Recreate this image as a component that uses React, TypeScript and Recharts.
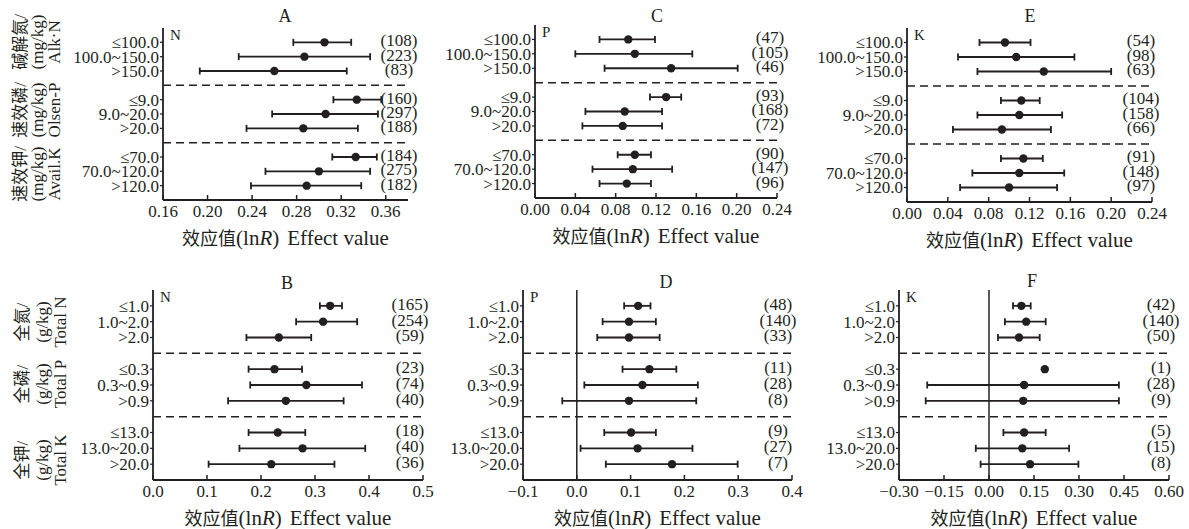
import React from "react";
import { ScatterChart, Scatter, XAxis, YAxis, ErrorBar, ReferenceLine } from "recharts";

const FONT = '"Liberation Serif", "Times New Roman", "Noto Sans CJK SC", serif';
const CJK = '"Noto Sans CJK SC", sans-serif';
const INK = "#231f20";

// row slots (3 and 7 are the dashed separators)
const rowIdx = [0, 1, 2, 4, 5, 6, 8, 9, 10];
const availRows = ["≤100.0", "100.0~150.0", ">150.0", "≤9.0", "9.0~20.0", ">20.0", "≤70.0", "70.0~120.0", ">120.0"];
const totalRows = ["≤1.0", "1.0~2.0", ">2.0", "≤0.3", "0.3~0.9", ">0.9", "≤13.0", "13.0~20.0", ">20.0"];

// A - N, available nutrients
const aMean = [0.305, 0.287, 0.26, 0.334, 0.306, 0.286, 0.333, 0.3, 0.289];
const aLow = [0.277, 0.228, 0.193, 0.313, 0.258, 0.235, 0.312, 0.252, 0.239];
const aHigh = [0.329, 0.346, 0.325, 0.356, 0.353, 0.335, 0.352, 0.346, 0.338];
const aN = [108, 223, 83, 160, 297, 188, 184, 275, 182];

// C - P, available nutrients
const cMean = [0.0925, 0.099, 0.135, 0.13, 0.089, 0.087, 0.099, 0.097, 0.091];
const cLow = [0.064, 0.04, 0.069, 0.114, 0.05, 0.047, 0.082, 0.057, 0.064];
const cHigh = [0.119, 0.156, 0.201, 0.145, 0.126, 0.126, 0.115, 0.136, 0.115];
const cN = [47, 105, 46, 93, 168, 72, 90, 147, 96];

// E - K, available nutrients
const eMean = [0.096, 0.107, 0.134, 0.112, 0.11, 0.093, 0.114, 0.11, 0.1];
const eLow = [0.071, 0.05, 0.069, 0.092, 0.069, 0.045, 0.092, 0.064, 0.052];
const eHigh = [0.121, 0.164, 0.2, 0.13, 0.152, 0.141, 0.133, 0.154, 0.147];
const eN = [54, 98, 63, 104, 158, 66, 91, 148, 97];

// B - N, total nutrients
const bMean = [0.328, 0.315, 0.233, 0.225, 0.284, 0.246, 0.231, 0.277, 0.219];
const bLow = [0.309, 0.265, 0.173, 0.177, 0.18, 0.139, 0.177, 0.16, 0.103];
const bHigh = [0.35, 0.378, 0.293, 0.276, 0.387, 0.353, 0.282, 0.393, 0.336];
const bN = [165, 254, 59, 23, 74, 40, 18, 40, 36];

// D - P, total nutrients
const dMean = [0.114, 0.097, 0.097, 0.135, 0.122, 0.097, 0.101, 0.113, 0.177];
const dLow = [0.088, 0.048, 0.038, 0.085, 0.014, -0.027, 0.051, 0.007, 0.054];
const dHigh = [0.137, 0.147, 0.154, 0.185, 0.225, 0.222, 0.147, 0.215, 0.299];
const dN = [48, 140, 33, 11, 28, 8, 9, 27, 7];

// F - K, total nutrients
const fMean = [0.108, 0.124, 0.1, 0.186, 0.117, 0.114, 0.117, 0.111, 0.137];
const fLow = [0.08, 0.053, 0.03, 0.186, -0.206, -0.211, 0.048, -0.044, -0.028];
const fHigh = [0.139, 0.189, 0.169, 0.186, 0.433, 0.433, 0.189, 0.267, 0.298];
const fN = [42, 140, 50, 1, 28, 9, 5, 15, 8];

const aTicks = [0.16, 0.2, 0.24, 0.28, 0.32, 0.36];
const ceTicks = [0, 0.04, 0.08, 0.12, 0.16, 0.2, 0.24];
const bTicks = [0, 0.1, 0.2, 0.3, 0.4, 0.5];
const dTicks = [-0.1, 0, 0.1, 0.2, 0.3, 0.4];
const fTicks = [-0.3, -0.15, 0, 0.15, 0.3, 0.45, 0.6];

const availSide = [
  ["碱解氮/", "(mg/kg)", "Alk·N"],
  ["速效磷/", "(mg/kg)", "Olsen-P"],
  ["速效钾/", "(mg/kg)", "Avail.K"],
];
const totalSide = [
  ["全氮/", "(g/kg)", "Total N"],
  ["全磷/", "(g/kg)", "Total P"],
  ["全钾/", "(g/kg)", "Total K"],
];

type Box = { l: number; r: number; t: number; b: number };

interface PanelProps {
  box: Box;
  rows: string[];
  mean: number[];
  low: number[];
  high: number[];
  counts: number[];
  domain: [number, number];
  ticks: number[];
  digits: number;
  zero?: boolean;
  countDx: number;
}

const fmt = (v: number, d: number) => v.toFixed(d).replace("-", "−");

function ForestPanel({ box, rows, mean, low, high, counts, domain, ticks, digits, zero, countDx }: PanelProps) {
  const yw = 110;
  const rw = 1;
  const mr = 24;
  const xh = 56;
  const pw = box.r - box.l;
  const ph = box.b - box.t;
  const W = yw + pw + rw + mr;
  const H = ph + xh;
  const pts = mean.map((m, i) => ({ x: m, y: rowIdx[i], err: [m - low[i], high[i] - m] }));

  const xTick = (p: any) => (
    <g>
      <line x1={p.x} x2={p.x} y1={ph} y2={ph - 5} stroke={INK} strokeWidth={1.5} />
      <text x={p.x} y={ph + 17} textAnchor="middle" fontFamily={FONT} fontSize={17} fill={INK}>
        {fmt(p.payload.value, digits)}
      </text>
    </g>
  );

  const rowTick = (p: any) => (
    <text x={p.x} y={p.y} dy="0.35em" textAnchor="end" fontFamily={FONT} fontSize={17} fill={INK}>
      {rows[rowIdx.indexOf(p.payload.value)]}
    </text>
  );

  const countTick = (p: any) => {
    const i = rowIdx.indexOf(p.payload.value);
    return (
      <text x={p.x + countDx} y={p.y - 2} dy="0.35em" textAnchor="middle" fontFamily={FONT} fontSize={17} fill={INK}>
        ({counts[i]})
      </text>
    );
  };

  return (
    <div style={{ position: "absolute", left: box.l - yw, top: box.t, width: W, height: H }}>
      <ScatterChart width={W} height={H} margin={{ top: 0, right: mr, bottom: 0, left: 0 }}>
        <XAxis
          type="number"
          dataKey="x"
          domain={domain}
          ticks={ticks}
          interval={0}
          allowDataOverflow
          height={xh}
          axisLine={{ stroke: INK, strokeWidth: 1.8 }}
          tickLine={false}
          tick={xTick}
        />
        <YAxis
          yAxisId="l"
          type="number"
          dataKey="y"
          domain={[-1, 11]}
          reversed
          ticks={rowIdx}
          interval={0}
          width={yw}
          axisLine={{ stroke: INK, strokeWidth: 1.8 }}
          tickLine={{ stroke: INK, strokeWidth: 1.2 }}
          tickSize={3}
          tickMargin={1}
          tick={rowTick}
        />
        <YAxis
          yAxisId="r"
          orientation="right"
          type="number"
          dataKey="y"
          domain={[-1, 11]}
          reversed
          ticks={rowIdx}
          interval={0}
          width={rw}
          axisLine={false}
          tickLine={false}
          tickSize={0}
          tickMargin={0}
          tick={countTick}
        />
        <ReferenceLine yAxisId="l" y={3} stroke={INK} strokeWidth={1.5} strokeDasharray="8 5" />
        <ReferenceLine yAxisId="l" y={7} stroke={INK} strokeWidth={1.5} strokeDasharray="8 5" />
        {zero && <ReferenceLine yAxisId="l" x={0} stroke={INK} strokeWidth={1.5} />}
        <Scatter
          yAxisId="l"
          data={pts}
          isAnimationActive={false}
          shape={(p: any) => <circle cx={p.cx} cy={p.cy} r={4.2} fill={INK} />}
        >
          <ErrorBar dataKey="err" direction="x" width={3.5} stroke={INK} strokeWidth={1.8} isAnimationActive={false} />
        </Scatter>
        <Scatter yAxisId="r" data={pts} isAnimationActive={false} shape={() => <g />} />
      </ScatterChart>
    </div>
  );
}

const boxA: Box = { l: 163, r: 408, t: 28, b: 200 };
const boxC: Box = { l: 535, r: 777, t: 25, b: 198 };
const boxE: Box = { l: 907, r: 1152, t: 28, b: 202 };
const boxB: Box = { l: 153, r: 423, t: 290, b: 480 };
const boxD: Box = { l: 523, r: 792, t: 290, b: 480 };
const boxF: Box = { l: 899, r: 1169, t: 290, b: 480 };

function AxisTitle({ box }: { box: Box }) {
  return (
    <text x={(box.l + box.r) / 2} y={box.b + 45} textAnchor="middle" fontFamily={FONT} fill={INK}>
      <tspan fontFamily={CJK} fontSize={18}>效应值</tspan>
      <tspan fontSize={21}>(ln</tspan>
      <tspan fontSize={21} fontStyle="italic">R</tspan>
      <tspan fontSize={21}>)</tspan>
      <tspan fontSize={21} dx={8}>Effect value</tspan>
    </text>
  );
}

function SideLabels({ groups, xs, ys }: { groups: string[][]; xs: number[]; ys: number[] }) {
  return (
    <g>
      {groups.map((g, gi) =>
        g.map((s, li) => (
          <text
            key={`${gi}-${li}`}
            x={xs[li]}
            y={ys[gi]}
            transform={`rotate(-90 ${xs[li]} ${ys[gi]})`}
            textAnchor="middle"
            dominantBaseline="central"
            fontFamily={FONT}
            fontSize={17}
            fill={INK}
          >
            {s}
          </text>
        ))
      )}
    </g>
  );
}

export default function App() {
  const panels = [
    { box: boxA, title: "A", el: "N", tx: 285, ty: 22 },
    { box: boxC, title: "C", el: "P", tx: 657, ty: 22 },
    { box: boxE, title: "E", el: "K", tx: 1030, ty: 22 },
    { box: boxB, title: "B", el: "N", tx: 287, ty: 289 },
    { box: boxD, title: "D", el: "P", tx: 666, ty: 288 },
    { box: boxF, title: "F", el: "K", tx: 1032, ty: 287 },
  ];
  return (
    <div style={{ position: "absolute", left: 0, top: 0, width: 1189, height: 529, background: "#fff", overflow: "hidden" }}>
      <ForestPanel box={boxA} rows={availRows} mean={aMean} low={aLow} high={aHigh} counts={aN} domain={[0.16, 0.38]} ticks={aTicks} digits={2} countDx={-9} />
      <ForestPanel box={boxC} rows={availRows} mean={cMean} low={cLow} high={cHigh} counts={cN} domain={[0, 0.24]} ticks={ceTicks} digits={2} countDx={-7} />
      <ForestPanel box={boxE} rows={availRows} mean={eMean} low={eLow} high={eHigh} counts={eN} domain={[0, 0.24]} ticks={ceTicks} digits={2} countDx={-11} />
      <ForestPanel box={boxB} rows={totalRows} mean={bMean} low={bLow} high={bHigh} counts={bN} domain={[0, 0.5]} ticks={bTicks} digits={1} countDx={-13} />
      <ForestPanel box={boxD} rows={totalRows} mean={dMean} low={dLow} high={dHigh} counts={dN} domain={[-0.1, 0.4]} ticks={dTicks} digits={1} zero countDx={-14} />
      <ForestPanel box={boxF} rows={totalRows} mean={fMean} low={fLow} high={fHigh} counts={fN} domain={[-0.3, 0.6]} ticks={fTicks} digits={2} zero countDx={-8} />
      <svg width={1189} height={529} style={{ position: "absolute", left: 0, top: 0, pointerEvents: "none" }}>
        {panels.map((p) => (
          <g key={p.title}>
            <text x={p.tx} y={p.ty} textAnchor="middle" fontFamily={FONT} fontSize={18} fill={INK}>{p.title}</text>
            <text x={p.box.l + 7} y={p.box.t + 12} fontFamily={FONT} fontSize={15} fill={INK}>{p.el}</text>
            <AxisTitle box={p.box} />
          </g>
        ))}
        <SideLabels groups={availSide} xs={[20, 37, 54]} ys={[42, 110, 174]} />
        <SideLabels groups={totalSide} xs={[22, 42, 60]} ys={[322, 384, 460]} />
      </svg>
    </div>
  );
}
